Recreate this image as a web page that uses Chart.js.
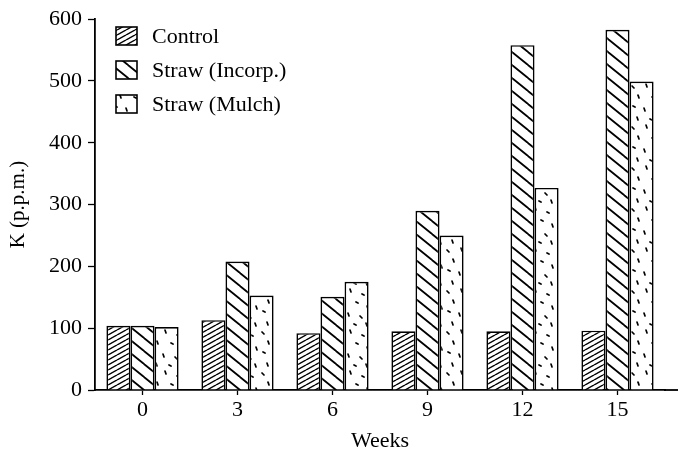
<!DOCTYPE html>
<html>
<head>
<meta charset="utf-8">
<script src="https://cdn.jsdelivr.net/npm/chart.js@4.4.0/dist/chart.umd.min.js"></script>
<style>
    html, body { margin: 0; padding: 0; background: #fff; }
    #wrap { width: 685px; height: 456px; }
</style>
</head>
<body>
<div id="wrap"><canvas id="k-chart" width="685" height="456"></canvas></div>
<script>
const weeks = ["0", "3", "6", "9", "12", "15"];
const control = [104, 113, 92, 95, 95, 96];
const strawIncorp = [104, 208, 151, 290, 558, 583];
const strawMulch = [102, 153, 175, 250, 327, 499];
const yTicks = [0, 100, 200, 300, 400, 500, 600];
const seriesNames = ["Control", "Straw (Incorp.)", "Straw (Mulch)"];

const FONT = "'Liberation Serif', 'Times New Roman', serif";

// hatch patterns, black ink on white
function makePattern(w, h, draw) {
    const c = document.createElement("canvas");
    c.width = w;
    c.height = h;
    const g = c.getContext("2d");
    g.fillStyle = "#fff";
    g.fillRect(0, 0, w, h);
    g.strokeStyle = "#000";
    g.lineCap = "round";
    draw(g, w, h);
    return g.createPattern(c, "repeat");
}

const ctx0 = document.getElementById("k-chart").getContext("2d");

const controlFill = makePattern(9, 5, (g, w, h) => {
    g.lineWidth = 1.4;
    for (let k = -1; k <= 1; k++) {
        g.beginPath();
        g.moveTo(k * w, h);
        g.lineTo((k + 1) * w, 0);
        g.stroke();
    }
});

const incorpFill = makePattern(16, 13, (g, w, h) => {
    g.lineWidth = 1.8;
    for (let k = -1; k <= 1; k++) {
        g.beginPath();
        g.moveTo(k * w, 0);
        g.lineTo((k + 1) * w, h);
        g.stroke();
    }
});

// scattered short dashes
const mulchFill = makePattern(37, 41, (g) => {
    g.lineWidth = 1.7;
    const dashes = [
        [3, 4, 5, 6], [17, 2, 18, 5], [29, 7, 31, 8], [9, 13, 10, 16],
        [23, 15, 25, 16], [34, 19, 35, 22], [4, 24, 6, 25], [15, 26, 16, 29],
        [27, 29, 29, 31], [8, 35, 9, 38], [21, 37, 23, 38], [33, 36, 34, 39]
    ];
    dashes.forEach(d => {
        g.beginPath();
        g.moveTo(d[0], d[1]);
        g.lineTo(d[2], d[3]);
        g.stroke();
    });
});

const fills = [controlFill, incorpFill, mulchFill];

// legend inside the plot, top left
const boxLegend = {
    id: "boxLegend",
    afterDraw(chart) {
        const c = chart.ctx;
        c.save();
        c.font = "22px " + FONT;
        c.textBaseline = "middle";
        seriesNames.forEach((name, i) => {
            const y = 36 + i * 34;
            c.fillStyle = fills[i];
            c.fillRect(116, y - 9, 21, 18);
            c.lineWidth = 1.6;
            c.strokeStyle = "#000";
            c.strokeRect(116, y - 9, 21, 18);
            c.fillStyle = "#000";
            c.fillText(name, 152, y + 1);
        });
        // x axis line runs a bit past the last group
        const area = chart.chartArea;
        c.beginPath();
        c.lineWidth = 1.8;
        c.moveTo(area.right - 1, area.bottom);
        c.lineTo(678, area.bottom);
        c.stroke();
        c.restore();
    }
};

new Chart(ctx0, {
    type: "bar",
    data: {
        labels: weeks,
        datasets: [
            { label: seriesNames[0], data: control, backgroundColor: controlFill },
            { label: seriesNames[1], data: strawIncorp, backgroundColor: incorpFill },
            { label: seriesNames[2], data: strawMulch, backgroundColor: mulchFill },
        ].map(d => Object.assign(d, {
            borderColor: "#000",
            borderWidth: 1.7,
            borderSkipped: "bottom",
            categoryPercentage: 0.76,
            barPercentage: 1.0,
        })),
    },
    options: {
        responsive: false,
        animation: false,
        layout: { padding: { top: 18, right: 20, left: 0, bottom: 0 } },
        plugins: {
            legend: { display: false },
            tooltip: { enabled: false },
        },
        scales: {
            x: {
                grid: {
                    drawOnChartArea: false,
                    offset: false,
                    color: "#000",
                    tickLength: 5,
                    tickWidth: 1.3,
                },
                border: { display: true, color: "#000", width: 1.8 },
                ticks: {
                    color: "#000",
                    font: { family: FONT, size: 22 },
                    padding: 2,
                },
                title: {
                    display: true,
                    text: "Weeks",
                    color: "#000",
                    font: { family: FONT, size: 22 },
                    padding: { top: 0, bottom: 2 },
                },
                afterFit(scale) { scale.height = 66; },
            },
            y: {
                min: 0,
                max: 600,
                afterBuildTicks(scale) {
                    scale.ticks = yTicks.map(v => ({ value: v }));
                },
                grid: {
                    drawOnChartArea: false,
                    color: "#000",
                    tickLength: 7,
                    tickWidth: 1.3,
                },
                border: { display: true, color: "#000", width: 1.8 },
                ticks: {
                    color: "#000",
                    font: { family: FONT, size: 22 },
                    padding: 6,
                },
                title: {
                    display: true,
                    text: "K (p.p.m.)",
                    color: "#000",
                    font: { family: FONT, size: 21 },
                    padding: { top: 6, bottom: 0 },
                },
                afterFit(scale) { scale.width = 95; },
            },
        },
    },
    plugins: [boxLegend],
});
</script>
</body>
</html>
